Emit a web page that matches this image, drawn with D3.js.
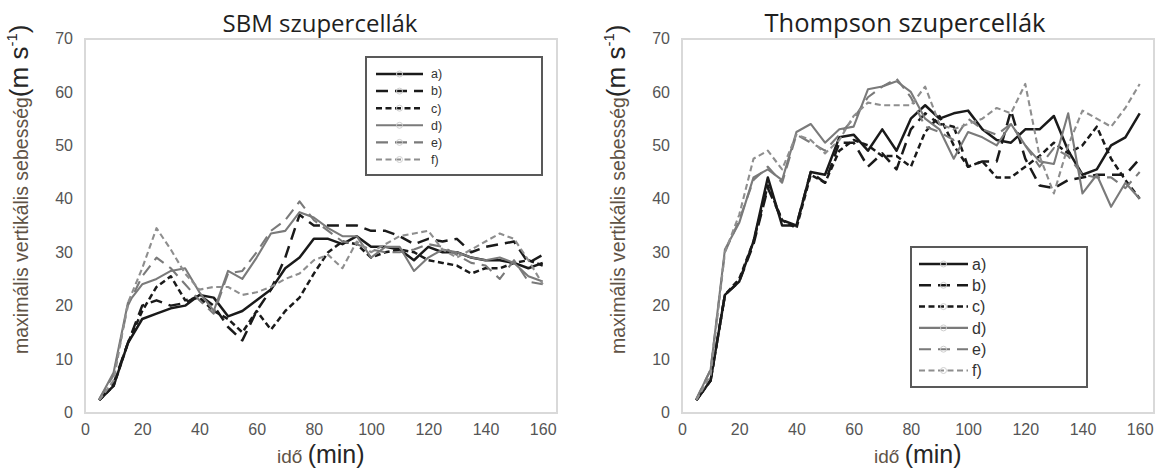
<!DOCTYPE html>
<html>
<head>
<meta charset="utf-8">
<script src="https://cdn.jsdelivr.net/npm/d3@7"></script>
<style>
  html, body { margin: 0; padding: 0; background: #fff; }
  svg { display: block; }
</style>
</head>
<body>
<svg id="chart" width="1158" height="471"></svg>
<script>
// ---------- data ----------
const time = [5,10,15,20,25,30,35,40,45,50,55,60,65,70,75,80,85,90,95,100,105,110,115,120,125,130,135,140,145,150,155,160];
const xTickValues = [0,20,40,60,80,100,120,140,160];
const yTickValues = [0,10,20,30,40,50,60,70];
const seriesNames = ["a)","b)","c)","d)","e)","f)"];

const sbmA = [2.3,5,13,17.5,18.5,19.5,20,22, 21.5,18,19,21,23,27,29,32.5, 32.5,31.5,33,31,31,30.5,28.5,31, 30,30,29,28.5,28.5,28,27,28];
const sbmB = [2.3,5.5,13,20,21,20,20.5,22, 20,16,13.5,19,23,29,37,35, 35,35,35,34,34,33,31.5,32.5, 32,32.5,30,31,31.5,32,28,29.5];
const sbmC = [2.3,5,13,19,23.5,25.5,21,21.5, 19,17.5,15,19,15.5,19,21.5,26, 30,32,31.5,29,30,30.5,30,28.5, 28,27.5,26,27,27,28,28.5,27.5];
const sbmD = [2.5,7.5,20.5,24,25,26.5,27,22.5, 19,26.5,25,29,33.5,34,37.5,36.5, 34.5,33,33,29,31,31,26.5,29, 30.5,30,29,28.5,29,28,25.5,24.5];
const sbmE = [2.5,7,20,25.5,29,27,24,21, 18.5,26,26.5,30,34,36,39.5,36, 34,32,31.5,30.5,30,30,30.5,31.5, 31,29.5,28,27.5,25,28.5,24.5,24];
const sbmF = [2.3,6,20.5,27,34.5,30.5,26,23, 23.5,23.5,22,22.5,23.5,25,26,28.5, 29.5,27,32,30,31.5,33,33.5,34, 30.5,29,30.5,32,33.5,32.5,28.5,24];

const thA = [2.3,6,22,24.5,32,44,35,35, 45,44.5,51.5,52,49,53,49,55, 57.5,55,56,56.5,53,51,50.5,53, 53,55.5,49,44.5,45.5,50,51.5,56];
const thB = [2.3,6,22,24.5,31.5,42,36,35, 45,43,50.5,50.5,46,48.5,45.5,53, 56,54,53.5,46,47,47,56.5,47.5, 42.5,42,43.5,44,44.5,44.5,44.5,47.5];
const thC = [2.3,6,22,25,32,42.5,36,34.5, 44.5,43,49,51,50,48,48,46, 52.5,55.5,50,46,47,44,44,46, 48,50.5,48.5,50,53.5,47.5,43.5,40];
const thD = [2.5,8,30.5,35.5,44,45.5,43.5,52.5, 54,50.5,53,53.5,60.5,61,62,60, 55,53,47.5,52.5,51.5,50,54,50, 47,46.5,56,41,44.5,38.5,43,40];
const thE = [2.5,8,30,36,43.5,46,43,52, 50.5,49,52,55,59,61,62.5,59, 53.5,52.5,51,55,53,52,54,50, 46,49.5,48,44.5,44,44,42,45];
const thF = [2.3,7,30,37,47.5,49,45.5,52, 51,48.5,51,55.5,58,57.5,57.5,57.5, 61,54,53,54,55,57,56,61.5, 48,41,50,56.5,55,53.5,57,61.5];

const titles = ["SBM szupercellák", "Thompson szupercellák"];

// ---------- styles ----------
const lineStyles = [
  {color: "#1a1a1a", width: 2.5, dash: null},
  {color: "#1a1a1a", width: 2.5, dash: "12,7"},
  {color: "#1a1a1a", width: 2.5, dash: "6,3.5"},
  {color: "#7a7a7a", width: 2.1, dash: null},
  {color: "#7a7a7a", width: 2.1, dash: "12,7"},
  {color: "#8e8e8e", width: 2.1, dash: "6,3.5"}
];

const panels = [
  {title: titles[0], series: [sbmA,sbmB,sbmC,sbmD,sbmE,sbmF], x0: 85, x1: 557, titleX: 320, titleFs: 24,
   legend: {x: 366, y: 57, w: 176, h: 118, first: 74, row: 17.1, l0: 376, l1: 423, tx: 431, fs: 12.5}},
  {title: titles[1], series: [thA,thB,thC,thD,thE,thF], x0: 682, x1: 1154, titleX: 905, titleFs: 25.5,
   legend: {x: 911, y: 247, w: 176, h: 140, first: 264, row: 21.3, l0: 919, l1: 968, tx: 972, fs: 16}}
];

const yTop = 39, yBot = 413;
const svg = d3.select("#chart");

panels.forEach((p, pi) => {
  const x = d3.scaleLinear().domain([0, 165]).range([p.x0, p.x1]);
  const y = d3.scaleLinear().domain([0, 70]).range([412.5, 38.5]);

  // frame
  svg.append("rect")
    .attr("x", p.x0).attr("y", yTop)
    .attr("width", p.x1 - p.x0).attr("height", yBot - yTop)
    .attr("fill", "none").attr("stroke", "#d9d9d9").attr("stroke-width", 2);

  // axes
  const gx = svg.append("g").attr("transform", `translate(0,${yBot})`)
    .call(d3.axisBottom(x).tickValues(xTickValues).tickSize(0).tickPadding(11));
  const gy = svg.append("g").attr("transform", `translate(${p.x0},0)`)
    .call(d3.axisLeft(y).tickValues(yTickValues).tickSize(0).tickPadding(12));
  [gx, gy].forEach(g => {
    g.select(".domain").remove();
    g.selectAll("text")
      .attr("font-family", "'Liberation Sans', Arial, sans-serif")
      .attr("font-size", 16).attr("fill", "#555");
  });

  // title
  svg.append("text")
    .attr("x", p.titleX).attr("y", 32)
    .attr("text-anchor", "middle")
    .attr("font-family", "'Open Sans', sans-serif")
    .attr("font-size", p.titleFs).attr("fill", "#1f1f1f")
    .text(p.title);

  // y label
  const yl = svg.append("text")
    .attr("transform", `translate(${p.x0 - 57},354) rotate(-90)`)
    .attr("font-family", "'Liberation Sans', Arial, sans-serif");
  yl.append("tspan").attr("font-size", 19.5).attr("fill", "#5f5346").text("maximális vertikális sebesség");
  yl.append("tspan").attr("font-size", 26).attr("fill", "#262626").text("(m s");
  yl.append("tspan").attr("font-size", 15).attr("fill", "#262626").attr("dy", -11).text("-1");
  yl.append("tspan").attr("font-size", 26).attr("fill", "#262626").attr("dy", 11).text(")");

  // x label
  const xl = svg.append("text")
    .attr("x", p.x0 + 192).attr("y", 463)
    .attr("font-family", "'Liberation Sans', Arial, sans-serif");
  xl.append("tspan").attr("font-size", 19).attr("fill", "#5f5346").text("idő ");
  xl.append("tspan").attr("font-size", 25).attr("fill", "#262626").text("(min)");

  // lines
  const line = d3.line().x((d, i) => x(time[i])).y(d => y(d));
  p.series.forEach((s, si) => {
    const st = lineStyles[si];
    svg.append("path").datum(s)
      .attr("d", line)
      .attr("fill", "none")
      .attr("stroke", st.color)
      .attr("stroke-width", st.width)
      .attr("stroke-linejoin", "round")
      .attr("stroke-dasharray", st.dash);
  });

  // legend
  const L = p.legend;
  svg.append("rect").attr("x", L.x).attr("y", L.y).attr("width", L.w).attr("height", L.h)
    .attr("fill", "#fff").attr("stroke", "#595959").attr("stroke-width", 2);
  seriesNames.forEach((nm, si) => {
    const st = lineStyles[si];
    const yy = L.first + si * L.row;
    svg.append("line").attr("x1", L.l0).attr("x2", L.l1).attr("y1", yy).attr("y2", yy)
      .attr("stroke", st.color).attr("stroke-width", st.width)
      .attr("stroke-dasharray", st.dash);
    svg.append("circle").attr("cx", (L.l0 + L.l1) / 2).attr("cy", yy).attr("r", 3)
      .attr("fill", "none").attr("stroke", "#cfcfcf").attr("stroke-width", 1);
    svg.append("text").attr("x", L.tx).attr("y", yy).attr("dy", "0.35em")
      .attr("font-family", "'Liberation Sans', Arial, sans-serif")
      .attr("font-size", L.fs).attr("fill", "#333")
      .text(nm);
  });
});
</script>
</body>
</html>
